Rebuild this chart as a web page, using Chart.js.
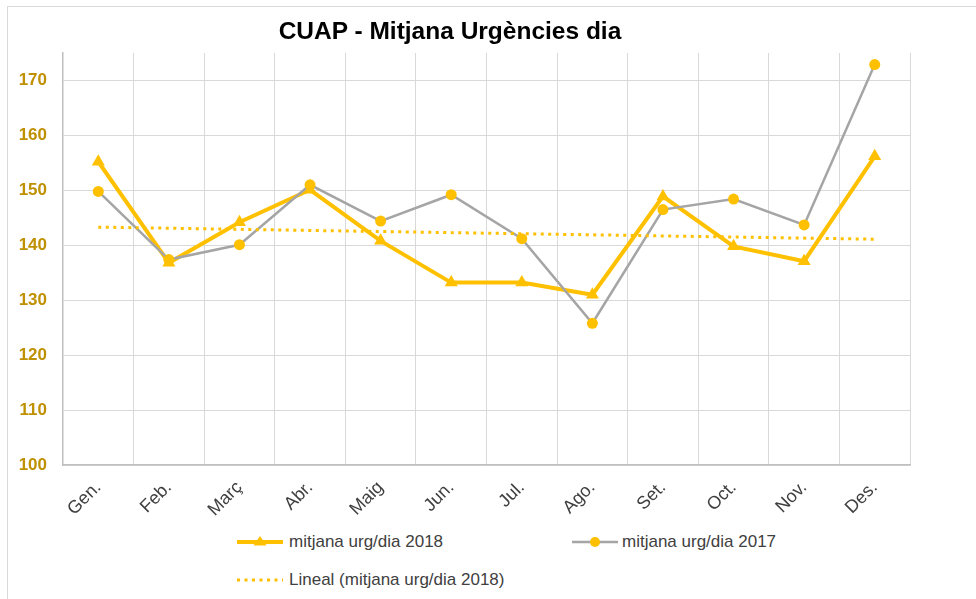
<!DOCTYPE html>
<html>
<head>
<meta charset="utf-8">
<script src="https://cdn.jsdelivr.net/npm/chart.js@4.4.1/dist/chart.umd.min.js"></script>
<style>
  html, body { margin: 0; padding: 0; background: #fff; overflow: hidden; }
  body { width: 976px; height: 599px; position: relative; font-family: 'Liberation Sans', Arial, sans-serif; }
  #frame { position: absolute; left: 7px; top: 6px; width: 1200px; height: 800px;
           border-top: 1px solid #d9d9d9; border-left: 1px solid #d9d9d9; }
  #chart { position: absolute; left: 0; top: 0; }
  #title { position: absolute; left: 0; top: 19px; width: 900px; text-align: center;
           font: bold 24.5px/24px 'Liberation Sans', Arial, sans-serif; color: #000; }
  .lg { position: absolute; height: 20px; display: flex; align-items: center;
        font-size: 17px; color: #404040; white-space: nowrap; }
  .lg svg { display: block; }
</style>
</head>
<body>
<div id="frame"></div>
<canvas id="chart" width="976" height="520"></canvas>
<div id="title">CUAP - Mitjana Urgències dia</div>

<div class="lg" style="left:237px; top:532px;">
  <svg width="46" height="20"><line x1="0" y1="10" x2="46" y2="10" stroke="#FFC000" stroke-width="4"/>
    <polygon points="23,4 29.5,13.5 16.5,13.5" fill="#FFC000"/></svg>
  <span style="margin-left:6px">mitjana urg/dia 2018</span>
</div>
<div class="lg" style="left:572px; top:532px;">
  <svg width="46" height="20"><line x1="0" y1="10" x2="46" y2="10" stroke="#A5A5A5" stroke-width="2.5"/>
    <circle cx="23" cy="10" r="5" fill="#FFC000"/></svg>
  <span style="margin-left:4px">mitjana urg/dia 2017</span>
</div>
<div class="lg" style="left:237px; top:570px;">
  <svg width="46" height="20"><line x1="0" y1="10" x2="46" y2="10" stroke="#FFC000" stroke-width="3" stroke-dasharray="3,4.5"/></svg>
  <span style="margin-left:6px">Lineal (mitjana urg/dia 2018)</span>
</div>

<script>
'use strict';

// ─── Data ────────────────────────────────────────────────────────────────────
const months = ['Gen.', 'Feb.', 'Març', 'Abr.', 'Maig', 'Jun.', 'Jul.', 'Ago.', 'Set.', 'Oct.', 'Nov.', 'Des.'];

// mitjana urg/dia 2018 (triangles, thick gold line)
const urg2018 = [155.2, 136.8, 144.2, 150.1, 140.8, 133.2, 133.2, 131.0, 148.9, 139.8, 137.1, 156.2];

// mitjana urg/dia 2017 (gold dots on a grey line)
const urg2017 = [149.8, 137.4, 140.1, 151.0, 144.4, 149.2, 141.2, 125.8, 146.5, 148.4, 143.7, 172.9];

// Linear trendline of 2018, read at its two ends only
const trend2018 = [143.3, null, null, null, null, null, null, null, null, null, null, 141.1];

const yTicks = [100, 110, 120, 130, 140, 150, 160, 170];

// ─── Colours ─────────────────────────────────────────────────────────────────
const GOLD      = '#FFC000';
const GREY      = '#A5A5A5';
const GRID      = '#d9d9d9';
const AXIS      = '#bfbfbf';
const TICK_GOLD = '#BF9000';

const ctx = document.getElementById('chart').getContext('2d');

new Chart(ctx, {
  type: 'line',
  data: {
    labels: months,
    datasets: [
      {
        label: 'Lineal (mitjana urg/dia 2018)',
        data: trend2018,
        borderColor: GOLD,
        borderWidth: 3,
        borderDash: [3, 4.5],
        pointRadius: 0,
        spanGaps: true,
        fill: false,
        order: 0,
      },
      {
        label: 'mitjana urg/dia 2017',
        data: urg2017,
        borderColor: GREY,
        borderWidth: 2.5,
        pointStyle: 'circle',
        pointRadius: 5.5,
        pointBackgroundColor: GOLD,
        pointBorderColor: GOLD,
        pointBorderWidth: 0,
        fill: false,
        order: 1,
      },
      {
        label: 'mitjana urg/dia 2018',
        data: urg2018,
        borderColor: GOLD,
        borderWidth: 4,
        pointStyle: 'triangle',
        pointRadius: 7.5,
        pointBackgroundColor: GOLD,
        pointBorderColor: GOLD,
        pointBorderWidth: 0,
        fill: false,
        order: 2,
      },
    ],
  },
  options: {
    responsive: false,
    animation: false,
    layout: { padding: { left: 8, right: 66, top: 53, bottom: 0 } },
    plugins: {
      legend:  { display: false },
      tooltip: { enabled: false },
      title:   { display: false },
    },
    elements: { line: { tension: 0 } },
    scales: {
      x: {
        offset: true,
        grid:   { color: GRID, offset: true, drawTicks: false },
        border: { color: AXIS, width: 1.5 },
        ticks: {
          color: '#404040',
          font: { family: "'Liberation Sans', Arial, sans-serif", size: 18 },
          minRotation: 45,
          maxRotation: 45,
          padding: 12,
        },
        afterFit: (scale) => { scale.height = 55; },
      },
      y: {
        min: 100,
        max: 175,
        grid:   { color: GRID, drawTicks: false },
        border: { color: AXIS, width: 1.5 },
        ticks: {
          stepSize: 10,
          color: TICK_GOLD,
          font: { family: "'Liberation Sans', Arial, sans-serif", size: 17, weight: 'bold' },
          padding: 16,
        },
        afterBuildTicks: (scale) => {
          scale.ticks = yTicks.map((v) => ({ value: v }));
        },
        afterFit: (scale) => { scale.width = 55; },
      },
    },
  },
});
</script>
</body>
</html>
